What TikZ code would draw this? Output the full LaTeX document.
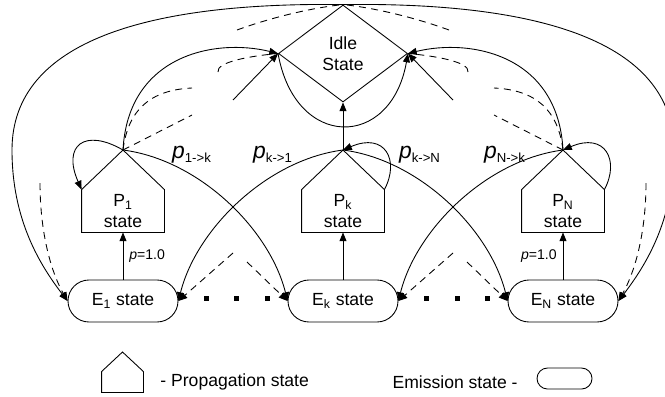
\documentclass[tikz,border=0pt]{standalone}
\usepackage{fontspec}
\setmainfont{Liberation Sans}
\usetikzlibrary{arrows.meta,shapes.geometric}

\newcommand{\ptrans}[1]{{\fontsize{13}{15}\selectfont\itshape p}\textsubscript{\fontsize{7.5}{9}\selectfont #1}}

\begin{document}
\begin{tikzpicture}[
      x=0.2mm,y=-0.2mm,
      idlebox/.style={diamond,draw,minimum width=2.58cm,minimum height=1.94cm,inner sep=0pt,align=center},
      pbody/.style={rectangle,minimum width=1.64cm,minimum height=0.84cm,inner sep=0pt,align=center},
      ebox/.style={rectangle,rounded corners=0.42cm,draw,minimum width=2.2cm,minimum height=0.84cm,inner sep=0pt},
      part/.style={dash pattern=on 4pt off 3pt},
      >={Triangle[length=5pt,width=4pt]},line width=0.5pt
    ]
    \clip (0,0) rectangle (665,396);

    \node[idlebox] (idle) at (343,53.5) {Idle\\State};

    \foreach \n/\x/\s in {p1/123/1,pk/343/k,pn/563/N} {
      \node[pbody] (\n) at (\x,211) {P\textsubscript{\s}\\state};
      \coordinate (\n apex) at (\x,150);
      \draw (\n apex) -- (\n.north west) -- (\n.south west) -- (\n.south east) -- (\n.north east) -- cycle;
    }

    \node[ebox] (e1) at (123,301) {E\textsubscript{1} state};
    \node[ebox] (ek) at (343,301) {E\textsubscript{k} state};
    \node[ebox] (en) at (563,301) {E\textsubscript{N} state};

    \foreach \x in {206,236,267,426,457,487}
      \fill (\x-2.5,295.5) rectangle (\x+2.5,300.5);

    % emission -> propagation
    \draw[->] (e1) -- (p1) node[midway,right,font=\footnotesize] (q1) {\textit{p}=1.0};
    \draw[->] (ek) -- (pk);
    \draw[->] (en) -- (pn) node[midway,left,font=\footnotesize] (qn) {\textit{p}=1.0};

    % self loops
    \draw[->] (p1apex) .. controls (85,128) and (62,145) .. (p1.north west);
    \draw[->] (pk.north east) .. controls (400,160) and (385,132) .. (pkapex);
    \draw[->] (pn.north east) .. controls (620,160) and (605,132) .. (pnapex);

    % into idle
    \draw[->] (pkapex) -- (idle.south);
    \draw[->] (p1apex) .. controls (128,55) and (215,38) .. (idle.west);
    \draw[->] (pnapex) .. controls (558,55) and (471,38) .. (idle.east);
    \draw[->] (idle.west) .. controls (295,150) and (391,150) .. (idle.east);
    \coordinate (inl) at (233,100);
    \coordinate (inr) at (453,100);
    \draw[->] (inl) -- (idle.west);
    \draw[->] (inr) -- (idle.east);

    % idle -> emission
    \draw[->] (idle.north) .. controls (150,2) and (12,40) .. (12,150) .. controls (12,220) and (40,265) .. (e1.west);
    \draw[->] (idle.north) .. controls (536,2) and (674,40) .. (674,150) .. controls (674,220) and (646,265) .. (en.east);

    % propagation -> emission
    \draw[->] (p1apex) .. controls (200,160) and (270,230) .. (ek.west);
    \draw[->] (pkapex) .. controls (266,160) and (196,230) .. (e1.east);
    \draw[->] (pkapex) .. controls (420,160) and (490,230) .. (en.west);
    \draw[->] (pnapex) .. controls (486,160) and (416,230) .. (ek.east);

    \node (l1k) at (192,155) {\ptrans{1->k}};
    \node (lk1) at (273,155) {\ptrans{k->1}};
    \node (lkn) at (420,155) {\ptrans{k->N}};
    \node (lnk) at (505,155) {\ptrans{N->k}};

    % partial transitions
    \coordinate (d1) at (40,183);
    \coordinate (dn) at (646,183);
    \draw[part,->] (d1) .. controls (40,230) and (50,270) .. (e1.west);
    \draw[part,->] (dn) .. controls (646,230) and (636,270) .. (en.east);
    \coordinate (b1) at (233,253);
    \coordinate (b2) at (247,262);
    \coordinate (b3) at (453,253);
    \coordinate (b4) at (467,262);
    \draw[part,->] (b1) -- (e1.east);
    \draw[part,->] (b2) -- (ek.west);
    \draw[part,->] (b3) -- (ek.east);
    \draw[part,->] (b4) -- (en.west);

    \coordinate (a1) at (192,115);
    \coordinate (a2) at (192,88);
    \coordinate (a3) at (218,72);
    \coordinate (a4) at (237,30);
    \draw[part] (p1apex) -- (a1);
    \draw[part] (p1apex) .. controls (128,110) and (150,90) .. (a2);
    \draw[part] (a3) .. controls (216,62) and (250,56) .. (idle.west);
    \draw[part] (a4) .. controls (270,18) and (310,8) .. (idle.north);
    \coordinate (c1) at (494,115);
    \coordinate (c2) at (494,88);
    \coordinate (c3) at (468,72);
    \coordinate (c4) at (449,30);
    \draw[part] (pnapex) -- (c1);
    \draw[part] (pnapex) .. controls (558,110) and (536,90) .. (c2);
    \draw[part] (c3) .. controls (470,62) and (436,56) .. (idle.east);
    \draw[part] (c4) .. controls (416,18) and (376,8) .. (idle.north);

    % legend
    \node[pbody,minimum width=0.82cm,minimum height=0.4cm] (lgp) at (122.5,382) {};
    \coordinate (lgpapex) at (122.5,352);
    \draw (lgpapex) -- (lgp.north west) -- (lgp.south west) -- (lgp.south east) -- (lgp.north east) -- cycle;
    \node[anchor=west,inner sep=0pt] (lgpt) at (160,382) {- Propagation state};
    \node[anchor=east,inner sep=0pt] (lget) at (518,382) {Emission state -};
    \node[ebox,minimum width=1.1cm,minimum height=0.42cm,rounded corners=0.21cm] (lge) at (564.5,378.5) {};
  \end{tikzpicture}
\end{document}
